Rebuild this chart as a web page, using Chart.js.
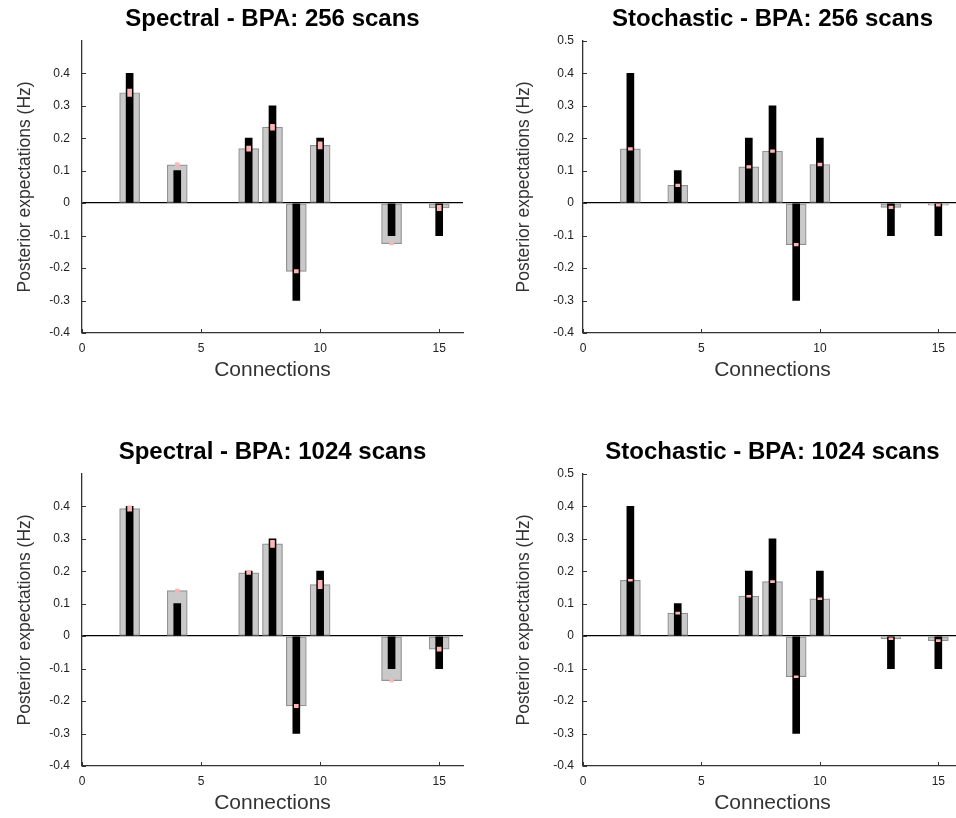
<!DOCTYPE html>
<html>
<head>
<meta charset="utf-8">
<script src="https://cdn.jsdelivr.net/npm/chart.js@4"></script>
<style>
    html, body { margin: 0; padding: 0; background: #fff; overflow: hidden; width: 956px; height: 818px; }
    .panel { position: absolute; }
</style>
</head>
<body>
<canvas id="spec256" class="panel" width="478" height="400" style="left:0;top:0"></canvas>
<canvas id="stoc256" class="panel" width="490" height="400" style="left:480px;top:0"></canvas>
<canvas id="spec1024" class="panel" width="478" height="400" style="left:0;top:433px"></canvas>
<canvas id="stoc1024" class="panel" width="490" height="400" style="left:480px;top:433px"></canvas>
<script>
// data
const connections = [2, 4, 7, 8, 9, 10, 13, 15];
const trueValues = [0.4, 0.1, 0.2, 0.3, -0.3, 0.2, -0.1, -0.1];

const spectral256 = [0.34, 0.118, 0.168, 0.234, -0.21, 0.178, -0.125, -0.015];
const spectral256Err = [0.011, 0.006, 0.008, 0.009, 0.005, 0.011, 0.004, 0.008];

const stochastic256 = [0.167, 0.055, 0.112, 0.16, -0.128, 0.119, -0.013, -0.006];
const stochastic256Err = [0.004, 0.004, 0.004, 0.004, 0.004, 0.004, 0.004, 0.003];

const spectral1024 = [0.393, 0.14, 0.195, 0.284, -0.215, 0.159, -0.137, -0.04];
const spectral1024Err = [0.008, 0.005, 0.005, 0.011, 0.005, 0.013, 0.004, 0.006];

const stochastic1024 = [0.172, 0.071, 0.123, 0.168, -0.125, 0.115, -0.008, -0.014];
const stochastic1024Err = [0.003, 0.003, 0.003, 0.003, 0.003, 0.003, 0.003, 0.003];

const xTicks = [0, 5, 10, 15];
const yTicksSpectral = [-0.4, -0.3, -0.2, -0.1, 0, 0.1, 0.2, 0.3, 0.4];
const yTicksStochastic = [-0.4, -0.3, -0.2, -0.1, 0, 0.1, 0.2, 0.3, 0.4, 0.5];

// ------

// small inward ticks like matlab
const inwardTicks = {
    id: 'inwardTicks',
    afterDatasetsDraw(chart) {
        const { ctx, chartArea, scales } = chart;
        ctx.save();
        ctx.strokeStyle = '#333';
        ctx.lineWidth = 1;
        scales.x.ticks.forEach(t => {
            const px = Math.round(scales.x.getPixelForValue(t.value)) + 0.5;
            ctx.beginPath();
            ctx.moveTo(px, chartArea.bottom);
            ctx.lineTo(px, chartArea.bottom - 4);
            ctx.stroke();
        });
        scales.y.ticks.forEach(t => {
            const py = Math.round(scales.y.getPixelForValue(t.value)) + 0.5;
            ctx.beginPath();
            ctx.moveTo(chartArea.left, py);
            ctx.lineTo(chartArea.left + 4, py);
            ctx.stroke();
        });
        ctx.restore();
    }
};

function makePanel (id, title, estimates, errors, yTicks, yWidth, yTitlePad, yTickPad, padRight) {
    const ctx = document.getElementById(id).getContext('2d');
    return new Chart(ctx, {
        type: 'bar',
        data: {
            datasets: [
                {
                    data: connections.map((c, i) => ({ x: c, y: estimates[i] })),
                    backgroundColor: '#c9c9c9',
                    borderColor: '#929292',
                    borderWidth: 1.2,
                    borderSkipped: false,
                    barThickness: 20,
                    grouped: false,
                    order: 3
                },
                {
                    data: connections.map((c, i) => ({ x: c, y: trueValues[i] })),
                    backgroundColor: '#000',
                    barThickness: 7,
                    grouped: false,
                    order: 2
                },
                {
                    data: connections.map((c, i) => ({ x: c, y: [estimates[i] - errors[i], estimates[i] + errors[i]] })),
                    backgroundColor: '#ffb4b4',
                    barThickness: 4,
                    grouped: false,
                    order: 1
                }
            ]
        },
        options: {
            responsive: false,
            animation: false,
            layout: { padding: { left: 0, right: padRight, top: 0, bottom: 0 } },
            plugins: {
                legend: { display: false },
                tooltip: { enabled: false },
                title: {
                    display: true,
                    text: title,
                    fullSize: false,
                    color: '#000',
                    font: { family: 'Liberation Sans, Arial, sans-serif', size: 24, weight: 'bold' },
                    padding: { top: 5, bottom: 7 }
                }
            },
            scales: {
                x: {
                    type: 'linear',
                    min: 0,
                    max: 16,
                    offset: false,
                    afterBuildTicks: scale => { scale.ticks = xTicks.map(v => ({ value: v })); },
                    afterFit: scale => { scale.height = 67; },
                    grid: { display: false, drawTicks: false },
                    border: { display: true, color: '#333', width: 1.3 },
                    ticks: {
                        color: '#222',
                        padding: 8,
                        maxRotation: 0,
                        font: { family: 'Liberation Sans, Arial, sans-serif', size: 12 }
                    },
                    title: {
                        display: true,
                        text: 'Connections',
                        color: '#333',
                        font: { family: 'Liberation Sans, Arial, sans-serif', size: 21 },
                        padding: { top: 0, bottom: 17 }
                    }
                },
                y: {
                    min: -0.4,
                    max: 0.5,
                    afterBuildTicks: scale => { scale.ticks = yTicks.map(v => ({ value: v })); },
                    afterFit: scale => { scale.width = yWidth; },
                    grid: {
                        drawTicks: false,
                        color: c => (c.tick && c.tick.value === 0 ? '#000' : 'rgba(0,0,0,0)'),
                        lineWidth: 1.3
                    },
                    border: { display: true, color: '#333', width: 1.3 },
                    ticks: {
                        color: '#222',
                        padding: yTickPad,
                        font: { family: 'Liberation Sans, Arial, sans-serif', size: 12 },
                        callback: v => (v === 0 ? '0' : v.toFixed(1))
                    },
                    title: {
                        display: true,
                        text: 'Posterior expectations (Hz)',
                        color: '#333',
                        font: { family: 'Liberation Sans, Arial, sans-serif', size: 17.5 },
                        padding: { top: yTitlePad, bottom: 0 }
                    }
                }
            }
        },
        plugins: [inwardTicks]
    });
}

makePanel('spec256', 'Spectral - BPA: 256 scans', spectral256, spectral256Err, yTicksSpectral, 82, 15, 12, 15);
makePanel('stoc256', 'Stochastic - BPA: 256 scans', stochastic256, stochastic256Err, yTicksStochastic, 103, 34, 9, 8);
makePanel('spec1024', 'Spectral - BPA: 1024 scans', spectral1024, spectral1024Err, yTicksSpectral, 82, 15, 12, 15);
makePanel('stoc1024', 'Stochastic - BPA: 1024 scans', stochastic1024, stochastic1024Err, yTicksStochastic, 103, 34, 9, 8);
</script>
</body>
</html>
